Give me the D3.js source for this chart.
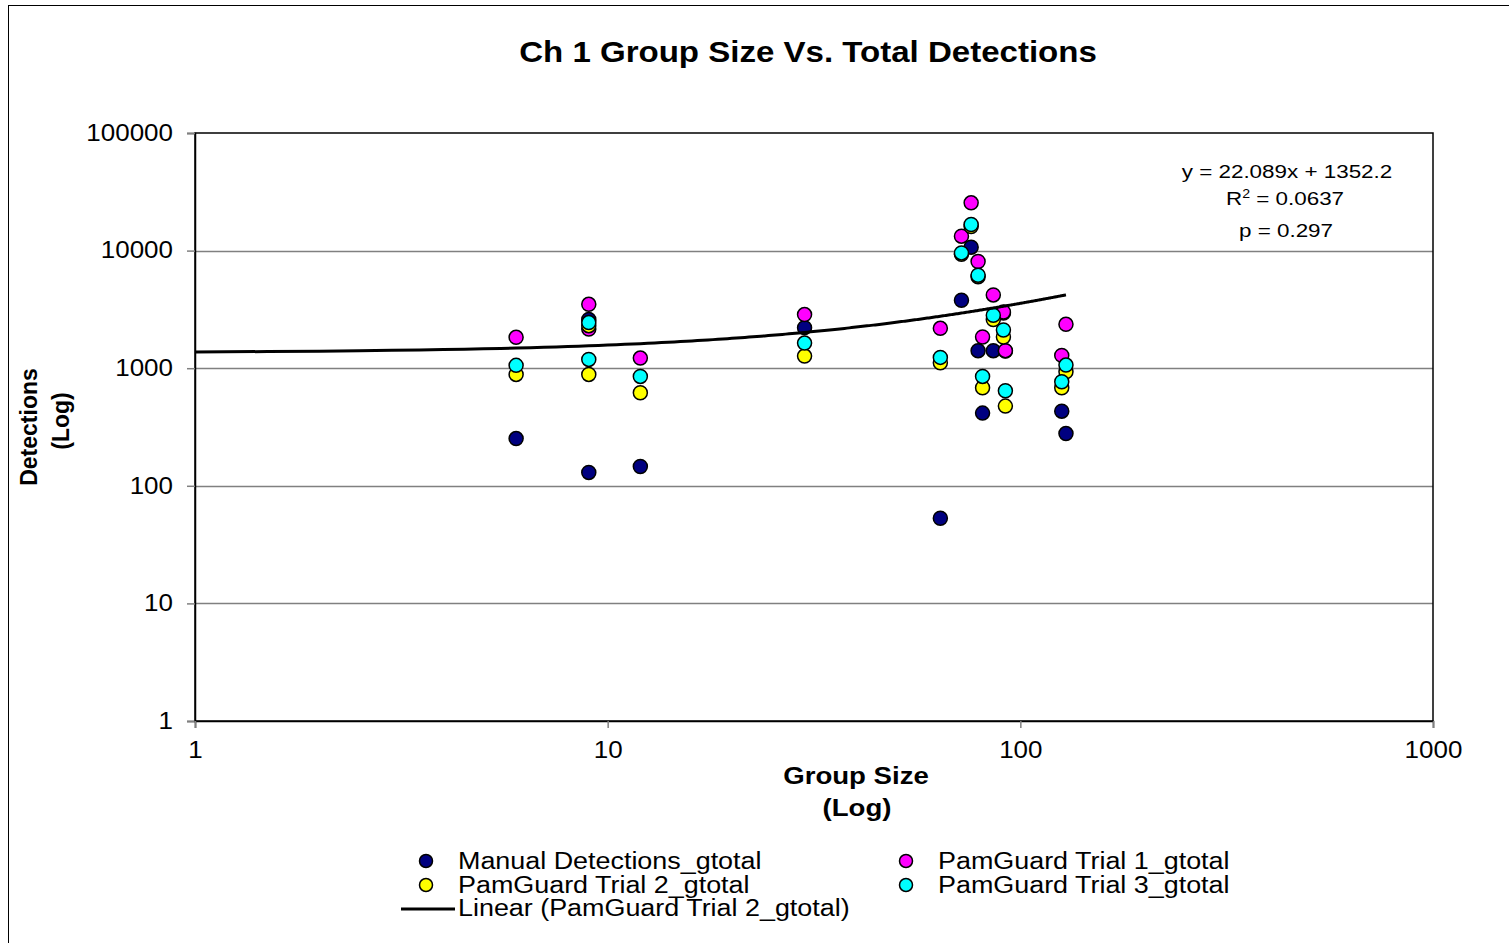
<!DOCTYPE html>
<html lang="en">
<head>
    <meta charset="utf-8">
    <title>Ch 1 Group Size Vs. Total Detections</title>
    <script src="https://d3js.org/d3.v7.min.js"></script>
    <style>
        body { margin: 0; background: #fff; }
        #my_dataviz svg { display: block; font-family: "Liberation Sans", Arial, sans-serif; }
    </style>
</head>
<body>

<div id="my_dataviz"></div>

<script>

// group size of each observation, and detections per series
var groupSize = [6, 9, 9, 12, 30, 64, 72, 76, 79, 81, 86, 91, 92, 126, 129];
var manual    = [252, 2600, 130, 146, 2213, 53, 3783, 10690, 1409, 415, 1409, 2950, 1400, 431, 278];
var trial1    = [1830, 3494, 2150, 1219, 2856, 2183, 13270, 25480, 8075, 1841, 4197, 3006, 1409, 1285, 2360];
var trial2    = [885, 2300, 885, 618, 1268, 1110, 9300, 16000, 6000, 682, 2589, 1841, 476, 682, 933];
var trial3    = [1057, 2442, 1188, 851, 1636, 1236, 9555, 16680, 6170, 851, 2818, 2113, 643, 767, 1063];

var seriesNames = ["Manual Detections_gtotal", "PamGuard Trial 1_gtotal", "PamGuard Trial 2_gtotal", "PamGuard Trial 3_gtotal"];
var seriesColors = ["#000080", "#ff00ff", "#ffff00", "#00ffff"];
var seriesValues = [manual, trial1, trial2, trial3];

var xTicks = [1, 10, 100, 1000];
var yTicks = [1, 10, 100, 1000, 10000, 100000];

// trendline printed on the chart
var trendSlope = 22.089, trendIntercept = 1352.2;
var trendText = ["y = 22.089x + 1352.2", " = 0.0637", "p = 0.297"];

var W = 1509, H = 943;
var plot = {left: 195, right: 1433, top: 133, bottom: 721};

// the original chart's lettering is a bit wider than the font; stretch it sideways
function stretch(sel, sx) {
    sel.each(function() {
        var t = d3.select(this);
        var tx = +t.attr("x") || 0, ty = +t.attr("y") || 0;
        t.attr("x", 0).attr("y", 0)
         .attr("transform", "translate(" + tx + "," + ty + ")scale(" + sx + ",1)");
    });
}

var svg = d3.select("#my_dataviz")
  .append("svg")
    .attr("width", W)
    .attr("height", H);

// outer chart frame (right/bottom edges fall outside the picture)
svg.append("rect")
    .attr("x", 8.5).attr("y", 5.5)
    .attr("width", 1600).attr("height", 1000)
    .attr("fill", "none").attr("stroke", "#000").attr("stroke-width", 1);

var x = d3.scaleLog().domain([1, 1000]).range([plot.left, plot.right]);
var y = d3.scaleLog().domain([1, 100000]).range([plot.bottom, plot.top]);

svg.append("text")
    .attr("x", 808).attr("y", 62)
    .attr("text-anchor", "middle")
    .style("font-weight", "bold")
    .style("font-size", "29px")
    .text("Ch 1 Group Size Vs. Total Detections")
    .call(stretch, 1.14);

// gridlines
svg.selectAll("gridlines")
    .data(yTicks.slice(1, -1))
    .enter()
    .append("line")
      .attr("x1", plot.left).attr("x2", plot.right)
      .attr("y1", function(d){ return Math.round(y(d)) + 0.5; })
      .attr("y2", function(d){ return Math.round(y(d)) + 0.5; })
      .attr("stroke", "#808080")
      .attr("stroke-width", 1.5);

// plot frame
svg.append("rect")
    .attr("x", plot.left).attr("y", plot.top)
    .attr("width", plot.right - plot.left).attr("height", plot.bottom - plot.top)
    .attr("fill", "none").attr("stroke", "#000").attr("stroke-width", 1.5);

var yAxis = svg.append("g")
    .attr("transform", "translate(" + plot.left + ",0)")
    .call(d3.axisLeft(y).tickValues(yTicks).tickFormat(d3.format("d")).tickSize(8).tickPadding(14));

var xAxis = svg.append("g")
    .attr("transform", "translate(0," + plot.bottom + ")")
    .call(d3.axisBottom(x).tickValues(xTicks).tickFormat(d3.format("d")).tickSize(7).tickPadding(14));

[xAxis, yAxis].forEach(function(a) {
    a.select(".domain").attr("stroke", "#000").attr("stroke-width", 1.5);
    a.selectAll(".tick line").attr("stroke", "#808080").attr("stroke-width", 1.5);
    a.selectAll(".tick text")
        .attr("fill", "#000")
        .style("font-family", "'Liberation Sans', Arial, sans-serif")
        .style("font-size", "23px")
        .call(stretch, 1.13);
});

// axis titles
svg.selectAll("xtitle")
    .data(["Group Size", "(Log)"])
    .enter()
    .append("text")
      .attr("x", function(d, i){ return 856 + i; })
      .attr("y", function(d, i){ return 784 + i * 32; })
      .attr("text-anchor", "middle")
      .style("font-weight", "bold")
      .style("font-size", "23px")
      .text(function(d){ return d; })
      .call(stretch, 1.2);

svg.selectAll("ytitle")
    .data(["Detections", "(Log)"])
    .enter()
    .append("text")
      .attr("text-anchor", "middle")
      .attr("transform", function(d, i){ return "translate(" + (37 + i * 32) + "," + (427 - i * 6) + ")rotate(-90)"; })
      .style("font-weight", "bold")
      .style("font-size", "23px")
      .text(function(d){ return d; });

// linear trendline of trial 2, drawn on the log axes
var trendX = d3.range(1, d3.max(groupSize) + 0.5, 0.5);
var line = d3.line()
    .x(function(d){ return x(d); })
    .y(function(d){ return y(trendSlope * d + trendIntercept); });

// markers
seriesValues.forEach(function(vals, s) {
    svg.selectAll("mynodes" + s)
        .data(vals)
        .enter()
        .append("circle")
          .attr("cx", function(d, i){ return x(groupSize[i]); })
          .attr("cy", function(d){ return y(d); })
          .attr("r", 7)
          .style("fill", seriesColors[s])
          .attr("stroke", "#000")
          .attr("stroke-width", 1.5);
});

svg.append("path")
    .datum(trendX)
    .attr("d", line)
    .attr("fill", "none")
    .attr("stroke", "#000")
    .attr("stroke-width", 3);

// equation box
var eq = svg.append("g").style("font-size", "19px").attr("text-anchor", "middle");
eq.append("text").attr("x", 1287).attr("y", 178).text(trendText[0]).call(stretch, 1.18);
var r2 = eq.append("text").attr("x", 1285).attr("y", 205);
r2.append("tspan").text("R");
r2.append("tspan").attr("dy", -7).style("font-size", "12px").text("2");
r2.append("tspan").attr("dy", 7).text(trendText[1]);
r2.call(stretch, 1.18);
eq.append("text").attr("x", 1286).attr("y", 237).text(trendText[2]).call(stretch, 1.18);

// legend
var legendPos = [[426, 861], [906, 861], [426, 885], [906, 885]];
seriesNames.forEach(function(name, s) {
    svg.append("circle")
        .attr("cx", legendPos[s][0]).attr("cy", legendPos[s][1])
        .attr("r", 6.5)
        .style("fill", seriesColors[s])
        .attr("stroke", "#000").attr("stroke-width", 1.5);
    svg.append("text")
        .attr("x", legendPos[s][0] + 32).attr("y", legendPos[s][1] + 8)
        .style("font-size", "23px")
        .text(name)
        .call(stretch, 1.17);
});
svg.append("line")
    .attr("x1", 401).attr("x2", 455)
    .attr("y1", 909).attr("y2", 909)
    .attr("stroke", "#000").attr("stroke-width", 3);
svg.append("text")
    .attr("x", 458).attr("y", 916)
    .style("font-size", "23px")
    .text("Linear (PamGuard Trial 2_gtotal)")
    .call(stretch, 1.17);

</script>
</body>
</html>
